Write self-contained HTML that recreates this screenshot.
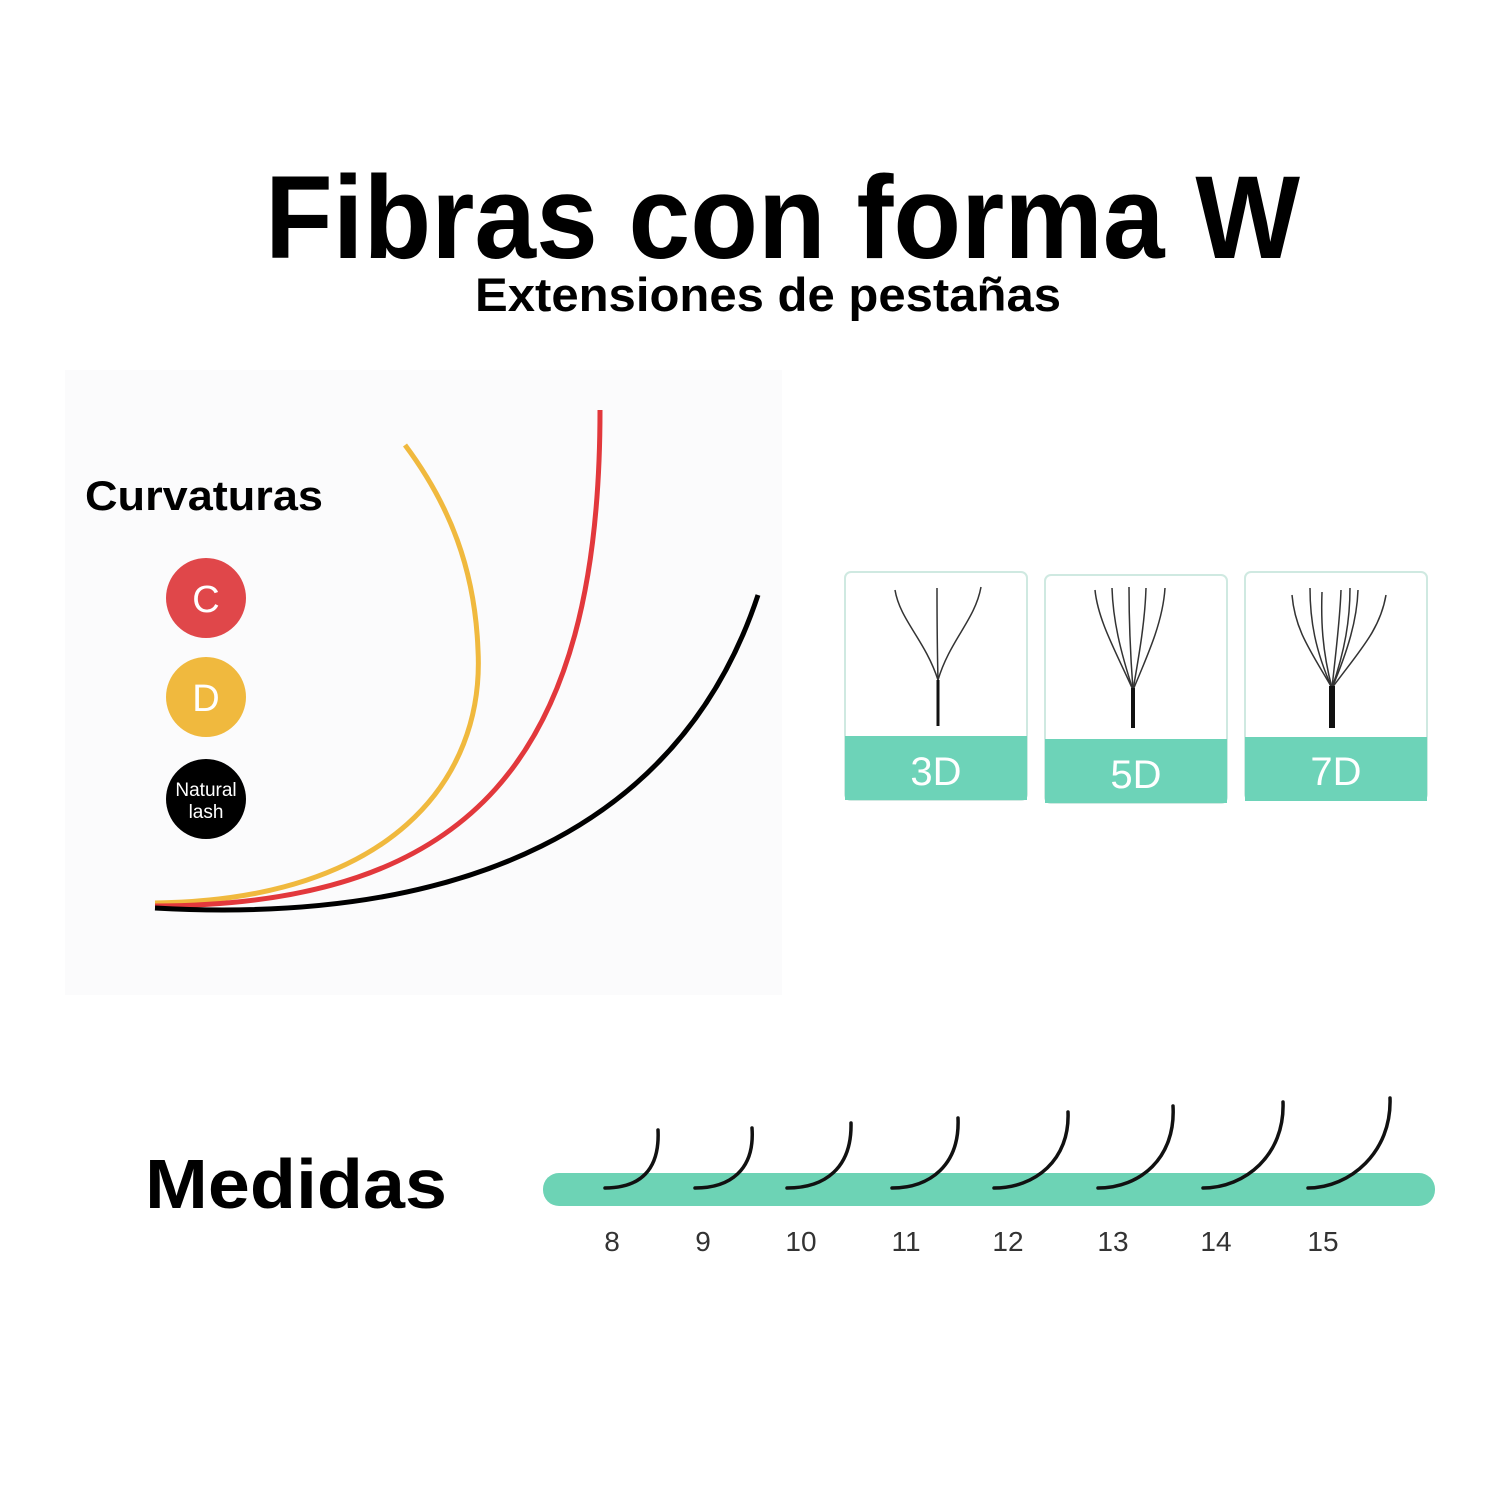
<!DOCTYPE html>
<html><head><meta charset="utf-8"><style>
html,body{margin:0;padding:0;background:#fff;width:1500px;height:1500px;overflow:hidden}
svg{display:block}
</style></head><body>
<svg width="1500" height="1500" viewBox="0 0 1500 1500" xmlns="http://www.w3.org/2000/svg">
<rect width="1500" height="1500" fill="#fff"/>
<text x="265" y="258" font-family="Liberation Sans, sans-serif" font-weight="bold" font-size="118" textLength="1035" lengthAdjust="spacingAndGlyphs" fill="#000">Fibras con forma W</text>
<text x="475" y="311" font-family="Liberation Sans, sans-serif" font-weight="bold" font-size="47" textLength="586" lengthAdjust="spacingAndGlyphs" fill="#000">Extensiones de pestañas</text>

<rect x="65" y="370" width="717" height="625" fill="#fbfbfc"/>
<text x="85" y="510" font-family="Liberation Sans, sans-serif" font-weight="bold" font-size="42" textLength="238" lengthAdjust="spacingAndGlyphs" fill="#000">Curvaturas</text>
<circle cx="206" cy="598" r="40" fill="#e0474a"/>
<text x="206" y="612" text-anchor="middle" font-family="Liberation Sans, sans-serif" font-size="38" fill="#fff">C</text>
<circle cx="206" cy="697" r="40" fill="#f0b93e"/>
<text x="206" y="711" text-anchor="middle" font-family="Liberation Sans, sans-serif" font-size="38" fill="#fff">D</text>
<circle cx="206" cy="799" r="40" fill="#000"/>
<text x="206" y="796" text-anchor="middle" font-family="Liberation Sans, sans-serif" font-size="19" fill="#fff">Natural</text>
<text x="206" y="818" text-anchor="middle" font-family="Liberation Sans, sans-serif" font-size="19" fill="#fff">lash</text>

<path d="M155,903 C390,900 485,780 478,650 C475,570 450,505 405,445" fill="none" stroke="#f0b93e" stroke-width="5"/>
<path d="M155,906 C470,905 600,760 600,410" fill="none" stroke="#e2383c" stroke-width="5"/>
<path d="M155,908 C460,925 680,830 758,595" fill="none" stroke="#000" stroke-width="5"/>

<g font-family="Liberation Sans, sans-serif" font-size="40" fill="#fff" text-anchor="middle">
<rect x="845" y="572" width="182" height="228" rx="6" fill="#fff" stroke="#cfe9e1" stroke-width="2"/>
<rect x="845" y="736" width="182" height="64" fill="#6dd3b8"/>
<text x="936" y="785">3D</text>
<rect x="1045" y="575" width="182" height="228" rx="6" fill="#fff" stroke="#cfe9e1" stroke-width="2"/>
<rect x="1045" y="739" width="182" height="64" fill="#6dd3b8"/>
<text x="1136" y="788">5D</text>
<rect x="1245" y="572" width="182" height="228" rx="6" fill="#fff" stroke="#cfe9e1" stroke-width="2"/>
<rect x="1245" y="737" width="182" height="64" fill="#6dd3b8"/>
<text x="1336" y="785">7D</text>
</g>
<g fill="none" stroke="#333" stroke-width="1.5">
<path d="M938,680 C925,640 900,620 895,590"/><path d="M938,680 C937,640 937,610 937,588"/><path d="M938,680 C950,640 975,620 981,587"/>
<path d="M1133,690 C1115,650 1098,620 1095,590"/><path d="M1133,690 C1120,650 1113,620 1112,588"/><path d="M1133,690 C1130,650 1129,620 1129,587"/><path d="M1133,690 C1140,650 1145,620 1146,588"/><path d="M1133,690 C1150,650 1163,620 1165,588"/>
<path d="M1332,688 C1310,650 1295,630 1292,595"/><path d="M1332,688 C1315,650 1310,620 1310,588"/><path d="M1332,688 C1322,650 1321,620 1322,592"/><path d="M1332,688 C1336,650 1340,620 1341,590"/><path d="M1332,688 C1345,650 1350,620 1350,588"/><path d="M1332,688 C1348,650 1357,620 1358,590"/><path d="M1332,688 C1360,650 1380,630 1386,595"/>
</g>
<path d="M938,726 L938,680" stroke="#111" stroke-width="3"/>
<path d="M1133,728 L1133,688" stroke="#111" stroke-width="4"/>
<path d="M1332,728 L1332,686" stroke="#111" stroke-width="6"/>

<text x="145" y="1208" font-family="Liberation Sans, sans-serif" font-weight="bold" font-size="70" textLength="302" lengthAdjust="spacingAndGlyphs" fill="#000">Medidas</text>
<rect x="543" y="1173" width="892" height="33" rx="16" fill="#6dd3b5"/>
<g fill="none" stroke="#111" stroke-width="3.5" stroke-linecap="round">
<path d="M605,1188 C640,1188 660,1170 658,1130"/>
<path d="M695,1188 C730,1188 755,1170 752,1128"/>
<path d="M787,1188 C825,1188 852,1168 851,1123"/>
<path d="M892,1188 C930,1188 960,1165 958,1118"/>
<path d="M994,1188 C1035,1188 1070,1160 1068,1112"/>
<path d="M1098,1188 C1140,1188 1176,1158 1173,1106"/>
<path d="M1203,1188 C1245,1188 1285,1155 1283,1102"/>
<path d="M1308,1188 C1350,1188 1392,1152 1390,1098"/>
</g>
<g font-family="Liberation Sans, sans-serif" font-size="28" fill="#333" text-anchor="middle">
<text x="612" y="1251">8</text><text x="703" y="1251">9</text><text x="801" y="1251">10</text><text x="906" y="1251">11</text><text x="1008" y="1251">12</text><text x="1113" y="1251">13</text><text x="1216" y="1251">14</text><text x="1323" y="1251">15</text>
</g>
</svg>
</body></html>
